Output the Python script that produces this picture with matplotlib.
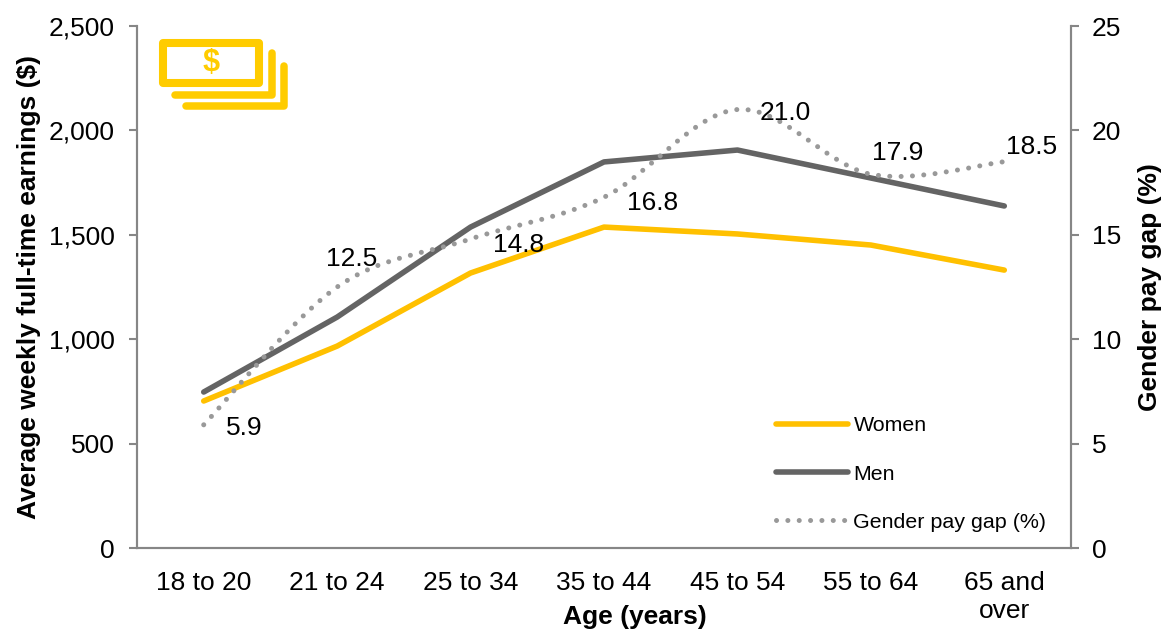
import matplotlib
matplotlib.use("Agg")
import matplotlib.pyplot as plt
from matplotlib.lines import Line2D
from matplotlib.patches import PathPatch, Rectangle
from matplotlib.path import Path

plt.rcParams['font.family'] = ['Liberation Sans', 'DejaVu Sans']

W, H = 1163, 630

# ---------- data ----------
AGES = ["18 to 20", "21 to 24", "25 to 34", "35 to 44", "45 to 54", "55 to 64", "65 and\nover"]
WOMEN = [704, 967, 1317, 1537, 1504, 1451, 1331]
MEN = [747, 1106, 1537, 1849, 1906, 1772, 1638]
GAP = [5.9, 12.5, 14.8, 16.8, 21.0, 17.9, 18.5]
EARNINGS_TICKS = [0, 500, 1000, 1500, 2000, 2500]
GAP_TICKS = [0, 5, 10, 15, 20, 25]
# where each gap label sits relative to its point (pixels)
LABEL_OFFSETS = [(41, -3), (14, 28), (48, -6), (49, -6), (48, -3), (27, 21), (27, 15)]

YELLOW = "#FFC000"
ICON_YELLOW = "#FFCC00"
GREY = "#646464"
DOT_GREY = "#999999"
AXIS_GREY = "#868686"
DOTS = (0, (0.01, 2.26))


def smooth_path(xs, ys):
    # excel style smoothed line, bezier through the points
    verts = [(xs[0], ys[0])]
    codes = [Path.MOVETO]
    n = len(xs)
    for i in range(n - 1):
        x0, y0 = xs[max(i - 1, 0)], ys[max(i - 1, 0)]
        x1, y1 = xs[i], ys[i]
        x2, y2 = xs[i + 1], ys[i + 1]
        x3, y3 = xs[min(i + 2, n - 1)], ys[min(i + 2, n - 1)]
        verts.append((x1 + (x2 - x0) / 6, y1 + (y2 - y0) / 6))
        verts.append((x2 - (x3 - x1) / 6, y2 - (y3 - y1) / 6))
        verts.append((x2, y2))
        codes += [Path.CURVE4] * 3
    return Path(verts, codes)


def draw_icon(fig):
    def px(x, y):
        return x / W, 1 - y / H
    x0, y0 = px(163, 83)
    fig.add_artist(Rectangle((x0, y0), 96 / W, 40 / H, transform=fig.transFigure, fill=False,
                             edgecolor=ICON_YELLOW, lw=5.8, joinstyle='round'))
    for pts in ([(175, 95), (272, 95), (272, 53)], [(186, 106), (284, 106), (284, 66)]):
        xy = [px(*p) for p in pts]
        fig.add_artist(Line2D([p[0] for p in xy], [p[1] for p in xy], transform=fig.transFigure,
                              color=ICON_YELLOW, lw=5.4, solid_capstyle='round', solid_joinstyle='round'))
    tx, ty = px(211, 63)
    fig.text(tx, ty, "$", color=ICON_YELLOW, fontsize=22, fontweight='bold', ha='center', va='center')


def make_chart():
    fig = plt.figure(figsize=(W / 100, H / 100), dpi=100)
    ax = fig.add_axes([137 / W, 1 - 548 / H, (1071 - 137) / W, (548 - 26) / H])
    ax2 = ax.twinx()
    xs = list(range(len(AGES)))

    ax.plot(xs, WOMEN, color=YELLOW, lw=4, solid_capstyle='round')
    ax.plot(xs, MEN, color=GREY, lw=4, solid_capstyle='round')
    ax2.add_patch(PathPatch(smooth_path(xs, GAP), fill=False, edgecolor=DOT_GREY, lw=3.6,
                            linestyle=DOTS, capstyle='round'))

    ax.set_xlim(-0.5, 6.5)
    ax.set_ylim(0, 2500)
    ax2.set_ylim(0, 25)
    ax.set_xticks(xs, AGES)
    ax.set_yticks(EARNINGS_TICKS, [f"{v:,}" for v in EARNINGS_TICKS])
    ax2.set_yticks(GAP_TICKS)

    for a in (ax, ax2):
        a.spines['top'].set_visible(False)
        for s in a.spines.values():
            s.set_color(AXIS_GREY)
            s.set_linewidth(1.5)
    ax.tick_params(axis='y', length=6, width=1.5, color=AXIS_GREY, labelsize=19, pad=10)
    ax2.tick_params(axis='y', length=6, width=1.5, color=AXIS_GREY, labelsize=19, pad=9)
    ax.tick_params(axis='x', length=0, labelsize=19, pad=16.5)
    for lab in ax.get_xticklabels():
        lab.set_linespacing(1.23)

    ax.set_ylabel("Average weekly full-time earnings ($)", fontsize=19, fontweight='bold', va='center')
    ax2.set_ylabel("Gender pay gap (%)", fontsize=19, fontweight='bold', va='center')
    ax.set_xlabel("Age (years)", fontsize=19, fontweight='bold', va='center')
    ax.yaxis.set_label_coords((29 - 137) / 934, 0.5)
    ax2.yaxis.set_label_coords((1150 - 137) / 934, 0.5)
    ax.xaxis.set_label_coords((635 - 137) / 934, (548 - 617) / 522)

    for x, v, off in zip(xs, GAP, LABEL_OFFSETS):
        ax2.annotate(f"{v:.1f}", (x, v), xytext=(off[0] * 0.72, off[1] * 0.72), textcoords='offset points',
                     fontsize=19, ha='center', va='center', color='black')

    handles = [
        Line2D([], [], color=YELLOW, lw=4, solid_capstyle='round'),
        Line2D([], [], color=GREY, lw=4, solid_capstyle='round'),
        Line2D([], [], color=DOT_GREY, lw=3.6, linestyle=DOTS, dash_capstyle='round'),
    ]
    ax2.legend(handles, ["Women", "Men", "Gender pay gap (%)"], frameon=False, fontsize=15.4,
               handlelength=3.37, handletextpad=0.25, labelspacing=1.37, borderpad=0, borderaxespad=0,
               loc='center left', bbox_to_anchor=((776 - 137) / (1071 - 137), (548 - 474) / (548 - 26)))

    draw_icon(fig)
    fig.savefig("out.png", dpi=100)
    plt.close(fig)


if __name__ == "__main__":
    make_chart()
